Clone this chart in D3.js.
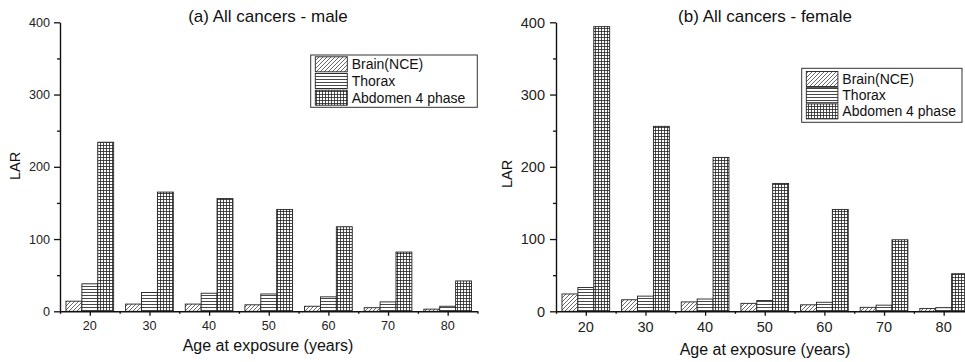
<!DOCTYPE html>
<html>
<head>
<meta charset="utf-8">
<script src="https://cdn.jsdelivr.net/npm/d3@7"></script>
<style>
  html, body { margin: 0; padding: 0; background: #fff; }
  svg { display: block; font-family: "Liberation Sans", Arial, sans-serif; }
</style>
</head>
<body>
<svg id="chart" width="965" height="362"></svg>
<script>
// ---------- data ----------
const ages = [20, 30, 40, 50, 60, 70, 80];
const xTickValues = [15, 20, 25, 30, 35, 40, 45, 50, 55, 60, 65, 70, 75, 80, 85];
const yMajorTicks = [0, 100, 200, 300, 400];
const yMinorTicks = [50, 150, 250, 350];
const seriesNames = ["Brain(NCE)", "Thorax", "Abdomen 4 phase"];

const maleBrain   = [14, 10, 10, 9, 7, 5, 3];
const maleThorax  = [38, 26, 25, 24, 20, 13, 7];
const maleAbdomen = [234, 165, 156, 141, 117, 82, 42];

const femaleBrain   = [24, 16, 13, 11, 9, 5.5, 4];
const femaleThorax  = [33, 21, 17, 15, 12.5, 8.5, 5];
const femaleAbdomen = [394, 256, 213, 177, 141, 99, 52];

const panelTitles = ["(a) All cancers - male", "(b) All cancers - female"];
const xLabel = "Age at exposure (years)";
const yLabel = "LAR";

// ---------- drawing ----------
const svg = d3.select("#chart");
const defs = svg.append("defs");

// fill patterns
const pDiag = defs.append("pattern").attr("id", "pat0")
  .attr("patternUnits", "userSpaceOnUse").attr("width", 4).attr("height", 4);
pDiag.append("rect").attr("width", 4).attr("height", 4).attr("fill", "#fff");
pDiag.append("path").attr("d", "M-1,1 L1,-1 M0,4 L4,0 M3,5 L5,3")
  .attr("stroke", "#444").attr("stroke-width", 0.8);

const pHor = defs.append("pattern").attr("id", "pat1")
  .attr("patternUnits", "userSpaceOnUse").attr("width", 4).attr("height", 3);
pHor.append("rect").attr("width", 4).attr("height", 3).attr("fill", "#fff");
pHor.append("path").attr("d", "M0,1.5 L4,1.5")
  .attr("stroke", "#333").attr("stroke-width", 0.9);

const pGrid = defs.append("pattern").attr("id", "pat2")
  .attr("patternUnits", "userSpaceOnUse").attr("width", 3).attr("height", 3);
pGrid.append("rect").attr("width", 3).attr("height", 3).attr("fill", "#fff");
pGrid.append("path").attr("d", "M0,1.5 L3,1.5 M1.5,0 L1.5,3")
  .attr("stroke", "#222").attr("stroke-width", 0.8);

const panels = [
  {
    title: panelTitles[0], series: [maleBrain, maleThorax, maleAbdomen],
    xr: [60, 477.5], yr: [311.3, 22.3],
    titleX: 268, titleY: 22, titleSize: 17,
    tickSize: 12.6, yTickX: 50, xTickY: 330,
    xlabX: 268, xlabY: 351, labSize: 16,
    ylabX: 20, ylabY: 166, ylabSize: 14.5,
    legend: { x: 310.7, y: 55, w: 166.6, h: 52.3, row0: 64.3, dy: 16.7, sw: 32, sh: 15 }
  },
  {
    title: panelTitles[1], series: [femaleBrain, femaleThorax, femaleAbdomen],
    xr: [556, 973.5], yr: [311.3, 22.3],
    titleX: 765, titleY: 22, titleSize: 17,
    tickSize: 14.5, yTickX: 545, xTickY: 332,
    xlabX: 765, xlabY: 355, labSize: 16,
    ylabX: 512, ylabY: 174, ylabSize: 14.5,
    legend: { x: 801.7, y: 68.3, w: 160.3, h: 54, row0: 79, dy: 16.2, sw: 31.6, sh: 15 }
  }
];

panels.forEach((p) => {
  const g = svg.append("g");
  const x = d3.scaleLinear().domain([15, 85]).range(p.xr);
  const y = d3.scaleLinear().domain([0, 400]).range(p.yr);
  const step = x(30) - x(20);
  const bw = step * 0.2665;

  // bars
  p.series.forEach((vals, si) => {
    g.selectAll(null).data(ages.map((a, i) => ({ a, v: vals[i] })))
      .join("rect")
      .attr("x", d => x(d.a) + (si - 1.5) * bw)
      .attr("y", d => y(d.v))
      .attr("width", bw)
      .attr("height", d => y(0) - y(d.v))
      .attr("fill", `url(#pat${si})`)
      .attr("stroke", "#222")
      .attr("stroke-width", 0.9);
  });

  // x axis
  const xAxis = d3.axisBottom(x)
    .tickValues(xTickValues)
    .tickSizeInner(0).tickSizeOuter(0)
    .tickFormat(() => "");
  const xg = g.append("g").attr("transform", `translate(0,${y(0)})`).call(xAxis);
  xg.select(".domain").attr("stroke", "#111").attr("stroke-width", 1.4);
  xg.selectAll(".tick line")
    .attr("y2", d => (ages.includes(d) ? 4.5 : 2.5))
    .attr("stroke", "#111").attr("stroke-width", 1.3);
  xg.selectAll(".tick text").remove();
  g.selectAll(null).data(ages).join("text")
    .attr("x", d => x(d)).attr("y", p.xTickY)
    .attr("text-anchor", "middle")
    .attr("font-size", p.tickSize).attr("fill", "#222")
    .text(d => d);

  // y axis
  const yAxis = d3.axisLeft(y)
    .tickValues(yMajorTicks.concat(yMinorTicks))
    .tickSizeInner(0).tickSizeOuter(0)
    .tickFormat(() => "");
  const yg = g.append("g").attr("transform", `translate(${x(15)},0)`).call(yAxis);
  yg.select(".domain").attr("stroke", "#111").attr("stroke-width", 1.4);
  yg.selectAll(".tick line")
    .attr("x2", d => (yMajorTicks.includes(d) ? -6 : -3))
    .attr("stroke", "#111").attr("stroke-width", 1.3);
  yg.selectAll(".tick text").remove();
  g.selectAll(null).data(yMajorTicks).join("text")
    .attr("x", p.yTickX).attr("y", d => y(d))
    .attr("dy", "0.36em")
    .attr("text-anchor", "end")
    .attr("font-size", p.tickSize).attr("fill", "#222")
    .text(d => d);

  // title
  g.append("text").attr("x", p.titleX).attr("y", p.titleY)
    .attr("text-anchor", "middle").attr("font-size", p.titleSize).attr("fill", "#111")
    .text(p.title);

  // axis labels
  g.append("text").attr("x", p.xlabX).attr("y", p.xlabY)
    .attr("text-anchor", "middle").attr("font-size", p.labSize).attr("fill", "#111")
    .text(xLabel);
  g.append("text")
    .attr("transform", `translate(${p.ylabX},${p.ylabY}) rotate(-90)`)
    .attr("text-anchor", "middle").attr("font-size", p.ylabSize).attr("fill", "#111")
    .text(yLabel);

  // legend
  const L = p.legend;
  g.append("rect").attr("x", L.x).attr("y", L.y).attr("width", L.w).attr("height", L.h)
    .attr("fill", "#fff").attr("stroke", "#333").attr("stroke-width", 1);
  seriesNames.forEach((name, si) => {
    const cy = L.row0 + si * L.dy;
    g.append("rect").attr("x", L.x + 4.6).attr("y", cy - L.sh / 2)
      .attr("width", L.sw).attr("height", L.sh)
      .attr("fill", `url(#pat${si})`).attr("stroke", "#222").attr("stroke-width", 0.9);
    g.append("text").attr("x", L.x + L.sw + 9).attr("y", cy).attr("dy", "0.36em")
      .attr("font-size", 14).attr("fill", "#111").text(name);
  });
});
</script>
</body>
</html>
